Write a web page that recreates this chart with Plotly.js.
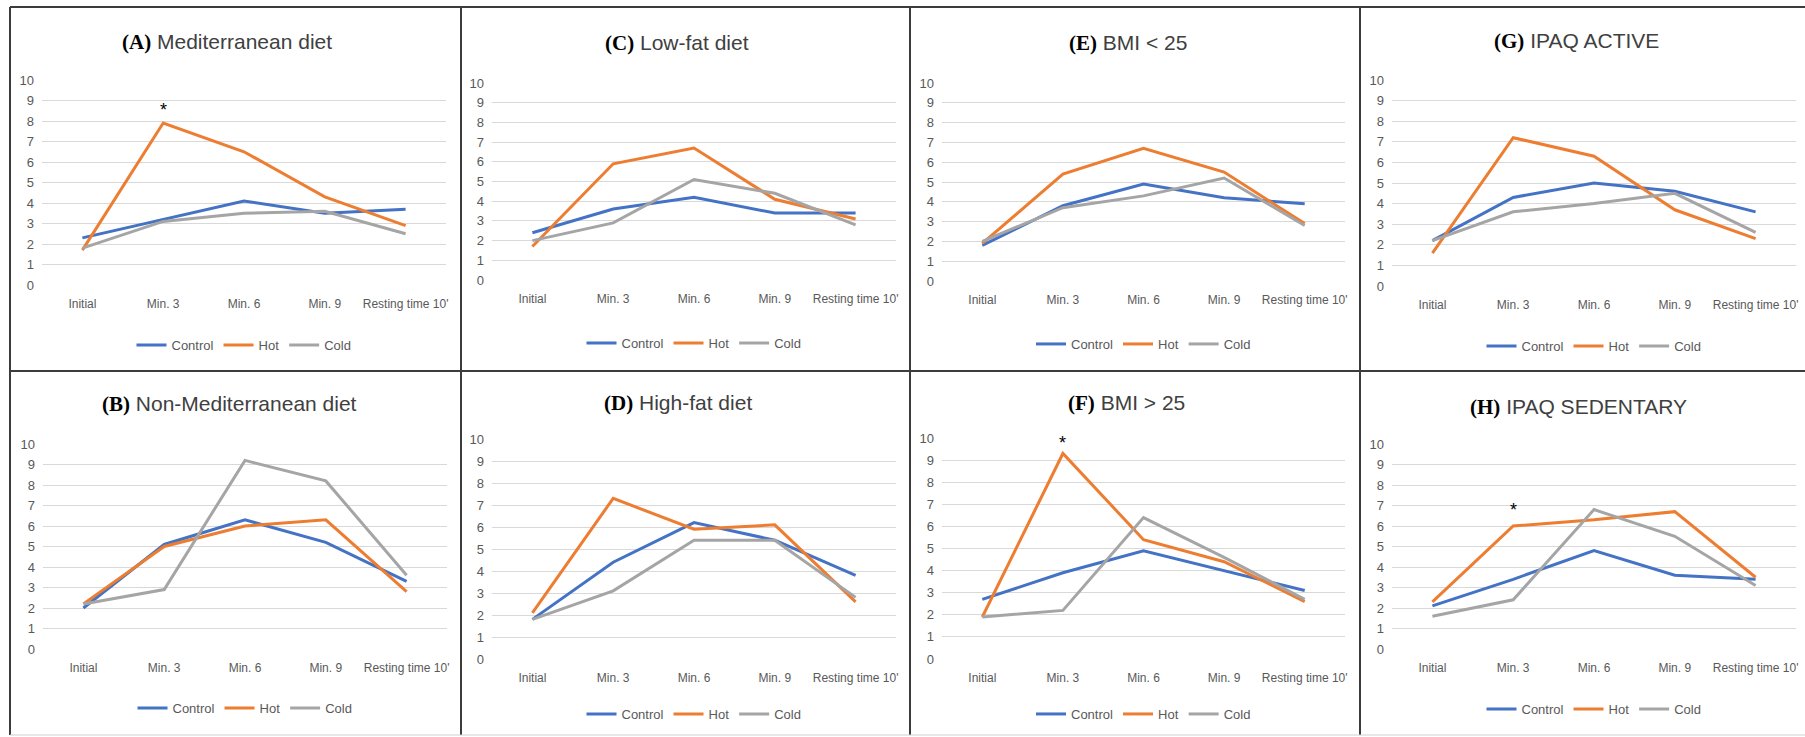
<!DOCTYPE html>
<html><head><meta charset="utf-8">
<script src="https://cdn.plot.ly/plotly-3.0.1.min.js"></script>
<style>html,body{margin:0;padding:0;background:#fff}#chart{width:1805px;height:737px}</style>
</head><body><div id="chart"></div>
<script>
// ---------- data ----------
const categories = ["Initial", "Min. 3", "Min. 6", "Min. 9", "Resting time 10'"];
const seriesNames = ["Control", "Hot", "Cold"];
const yTickValues = [0, 1, 2, 3, 4, 5, 6, 7, 8, 9, 10];

const panelLetters = ["A", "C", "E", "G", "B", "D", "F", "H"];
const panelTitles = ["Mediterranean diet", "Low-fat diet", "BMI < 25", "IPAQ ACTIVE",
                     "Non-Mediterranean diet", "High-fat diet", "BMI > 25", "IPAQ SEDENTARY"];

// (A) Mediterranean diet
const aControl = [2.3, 3.2, 4.1, 3.5, 3.7];
const aHot     = [1.7, 7.9, 6.5, 4.3, 2.9];
const aCold    = [1.8, 3.1, 3.5, 3.6, 2.5];
// (C) Low-fat diet
const cControl = [2.4, 3.6, 4.2, 3.4, 3.4];
const cHot     = [1.7, 5.9, 6.7, 4.1, 3.1];
const cCold    = [2.0, 2.9, 5.1, 4.4, 2.8];
// (E) BMI < 25
const eControl = [1.8, 3.8, 4.9, 4.2, 3.9];
const eHot     = [1.9, 5.4, 6.7, 5.5, 2.9];
const eCold    = [2.0, 3.7, 4.3, 5.2, 2.8];
// (G) IPAQ ACTIVE
const gControl = [2.2, 4.3, 5.0, 4.6, 3.6];
const gHot     = [1.6, 7.2, 6.3, 3.7, 2.3];
const gCold    = [2.2, 3.6, 4.0, 4.5, 2.6];
// (B) Non-Mediterranean diet
const bControl = [2.0, 5.1, 6.3, 5.2, 3.3];
const bHot     = [2.2, 5.0, 6.0, 6.3, 2.8];
const bCold    = [2.2, 2.9, 9.2, 8.2, 3.6];
// (D) High-fat diet
const dControl = [1.8, 4.4, 6.2, 5.4, 3.8];
const dHot     = [2.1, 7.3, 5.9, 6.1, 2.6];
const dCold    = [1.8, 3.1, 5.4, 5.4, 2.8];
// (F) BMI > 25
const fControl = [2.7, 3.9, 4.9, 4.0, 3.1];
const fHot     = [1.9, 9.3, 5.4, 4.4, 2.6];
const fCold    = [1.9, 2.2, 6.4, 4.6, 2.7];
// (H) IPAQ SEDENTARY
const hControl = [2.1, 3.4, 4.8, 3.6, 3.4];
const hHot     = [2.3, 6.0, 6.3, 6.7, 3.5];
const hCold    = [1.6, 2.4, 6.8, 5.5, 3.1];

// significance markers (panel letter, category, level)
const asteriskPanels = ["A", "F", "H"];
const asteriskCategory = "Min. 3";
const asteriskLevels = [8.75, 9.95, 7.0];

// ---------- presentation ----------
const panelSeries = {
  A: [aControl, aHot, aCold], C: [cControl, cHot, cCold],
  E: [eControl, eHot, eCold], G: [gControl, gHot, gCold],
  B: [bControl, bHot, bCold], D: [dControl, dHot, dCold],
  F: [fControl, fHot, fCold], H: [hControl, hHot, hCold]
};
const colors = ["#4472C4", "#ED7D31", "#A5A5A5"];
const W = 1805, H = 737;
// plot area boxes in pixels: [left, right, top(10), bottom(0)]
const boxes = [
  [42, 446, 80, 285], [492, 896, 83, 280], [942, 1345, 83, 281], [1392, 1796, 80, 286],
  [43, 447, 444, 649], [492, 896, 439, 659], [942, 1345, 438, 659], [1392, 1796, 444, 649]
];
const titlePos = [[227, 42], [677, 43], [1128, 43], [1576, 41], [229, 404], [678, 403], [1126, 403], [1578, 407]];
const legendY = [345, 343, 344, 346, 708, 714, 714, 709];

const FONT = "Liberation Sans Narrow, Arial Narrow, Liberation Sans, Arial, sans-serif";
const px = x => x / W;
const py = y => 1 - y / H;
const esc = s => s.replace(/&/g, "&amp;").replace(/</g, "&lt;").replace(/>/g, "&gt;");

const traces = [];
const layout = {
  width: W, height: H,
  margin: {l: 0, r: 0, t: 0, b: 0},
  paper_bgcolor: "#ffffff", plot_bgcolor: "rgba(0,0,0,0)",
  showlegend: true,
  annotations: [], shapes: []
};

panelLetters.forEach((letter, i) => {
  const n = i + 1;
  const xa = "xaxis" + (n === 1 ? "" : n), ya = "yaxis" + (n === 1 ? "" : n);
  const xr = "x" + (n === 1 ? "" : n), yr = "y" + (n === 1 ? "" : n);
  const lg = "legend" + (n === 1 ? "" : n);
  const [l, r, t, b] = boxes[i];

  layout[xa] = {
    domain: [px(l), px(r)], anchor: yr, type: "category",
    categoryorder: "array", categoryarray: categories,
    range: [-0.5, categories.length - 0.5],
    showgrid: false, zeroline: false, showline: false, ticks: "",
    ticklabelstandoff: 10,
    tickfont: {family: FONT, size: 12, color: "#595959"}, fixedrange: true
  };
  layout[ya] = {
    domain: [py(b), py(t)], anchor: xr, range: [0, 10],
    tickmode: "array", tickvals: yTickValues, ticktext: yTickValues.map(String),
    showgrid: true, gridcolor: "#D9D9D9", gridwidth: 1,
    zeroline: false, showline: false, ticks: "",
    ticklabelstandoff: 7,
    tickfont: {family: FONT, size: 13, color: "#595959"}, fixedrange: true
  };
  layout[lg] = {
    orientation: "h", x: px((l + r) / 2), xanchor: "center",
    y: py(legendY[i]), yanchor: "middle",
    bgcolor: "rgba(0,0,0,0)", borderwidth: 0,
    font: {family: FONT, size: 13, color: "#595959"},
    itemwidth: 30, tracegroupgap: 0
  };

  panelSeries[letter].forEach((vals, s) => {
    traces.push({
      type: "scatter", mode: "lines", x: categories, y: vals,
      name: seriesNames[s], xaxis: xr, yaxis: yr, legend: lg,
      line: {color: colors[s], width: 3}, hoverinfo: "skip"
    });
  });

  layout.annotations.push({
    xref: "paper", yref: "paper", x: px(titlePos[i][0]), y: py(titlePos[i][1]),
    xanchor: "center", yanchor: "middle", showarrow: false,
    text: '<span style="font-family:Liberation Serif;color:#000000"><b>(' + letter + ')</b></span> ' + esc(panelTitles[i]),
    font: {family: FONT, size: 21, color: "#404040"}
  });

  const ai = asteriskPanels.indexOf(letter);
  if (ai >= 0) {
    layout.annotations.push({
      xref: xr, yref: yr, x: asteriskCategory, y: asteriskLevels[ai],
      xanchor: "center", yanchor: "middle", showarrow: false, yshift: -4,
      text: "*", font: {family: "Liberation Sans, Arial, sans-serif", size: 18, color: "#000000"}
    });
  }
});

// panel frame lines
const dark = {color: "#3c3c3c", width: 2};
const frame = [
  [10, 7, W, 7, dark], [10, 371, W, 371, dark],
  [10, 7, 10, 735, dark], [461, 7, 461, 735, dark],
  [910, 7, 910, 735, dark], [1360, 7, 1360, 735, dark],
  [10, 735, W, 735, {color: "#cfcfcf", width: 1}]
];
frame.forEach(([x0, y0, x1, y1, line]) => {
  layout.shapes.push({type: "line", xref: "paper", yref: "paper",
    x0: px(x0), y0: py(y0), x1: px(x1), y1: py(y1), line: line, layer: "above"});
});

Plotly.newPlot("chart", traces, layout, {displayModeBar: false, responsive: false});
</script>
</body></html>
